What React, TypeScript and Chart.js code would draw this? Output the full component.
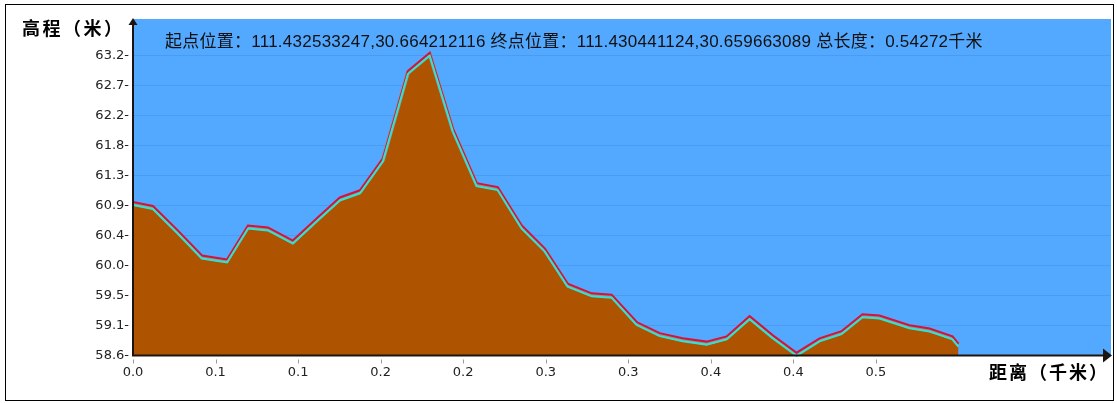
import { useEffect, useRef } from 'react';
import { Chart, registerables } from 'chart.js';

Chart.register(...registerables);

// ---- data ----
const distanceKm = [
  0.0, 0.0131, 0.0296, 0.0453, 0.0618, 0.0756, 0.0887, 0.1051, 0.1209, 0.136,
  0.1492, 0.1643, 0.1807, 0.1951, 0.2103, 0.226, 0.2398, 0.2556, 0.2707, 0.2858,
  0.3016, 0.3147, 0.3312, 0.3463, 0.3614, 0.3771, 0.3903, 0.4054, 0.4205, 0.4363,
  0.4514, 0.4658, 0.4796, 0.4908, 0.5105, 0.5237, 0.5388, 0.5427,
];
const elevationM = [
  60.93, 60.87, 60.49, 60.11, 60.05, 60.57, 60.54, 60.34, 60.68, 61.0,
  61.11, 61.6, 62.94, 63.22, 62.06, 61.22, 61.16, 60.57, 60.22, 59.68,
  59.53, 59.51, 59.09, 58.92, 58.84, 58.79, 58.87, 59.18, 58.89, 58.62,
  58.84, 58.95, 59.21, 59.19, 59.04, 58.99, 58.87, 58.76,
];
const yTickLabels = ['58.6', '59.1', '59.5', '60.0', '60.4', '60.9', '61.3', '61.8', '62.2', '62.7', '63.2'];
const xTickLabels = ['0.0', '0.1', '0.1', '0.2', '0.2', '0.3', '0.3', '0.4', '0.4', '0.5'];
const totalLengthKm = 0.54272;
const yMin = 58.6;
const yStep = 0.46;
const yMax = 63.76;
const xMax = 0.643;

const headerText =
  '起点位置：111.432533247,30.664212116 终点位置：111.430441124,30.659663089 总长度：0.54272千米';
const yTitle = '高程（米）';
const xTitle = '距离（千米）';

const BLUE = '#53A9FF';
const BROWN = '#AE5300';
const TEXT_FONT = '"Liberation Sans", "Noto Sans CJK SC", Arial, sans-serif';

export default function App() {
  const ref = useRef<HTMLCanvasElement>(null);

  useEffect(() => {
    const canvas = ref.current;
    if (!canvas) return;
    const pts = distanceKm.map((x, i) => ({ x, y: elevationM[i] }));
    const xStep = totalLengthKm / 10;

    const bgPlugin = {
      id: 'plotBg',
      beforeDraw(chart: any) {
        const { ctx, chartArea: a } = chart;
        ctx.save();
        ctx.fillStyle = BLUE;
        ctx.fillRect(a.left, a.top, a.right - a.left, a.bottom - a.top);
        ctx.restore();
      },
    };

    const offsetPlugin = {
      id: 'lineOffset',
      beforeDatasetDraw(chart: any, args: any) {
        const o = (chart.data.datasets[args.index] as any).yOffset || 0;
        chart.ctx.save();
        chart.ctx.translate(0, o);
      },
      afterDatasetDraw(chart: any) {
        chart.ctx.restore();
      },
    };

    const axesPlugin = {
      id: 'arrowAxes',
      afterDraw(chart: any) {
        const { ctx, chartArea: a } = chart;
        const xs = chart.scales.x;
        ctx.save();
        // x tick marks (detached from the axis)
        ctx.strokeStyle = '#9a9a9a';
        ctx.lineWidth = 1;
        xs.ticks.forEach((t: any) => {
          const px = Math.round(xs.getPixelForValue(t.value)) + 0.5;
          ctx.beginPath();
          ctx.moveTo(px, a.bottom + 4);
          ctx.lineTo(px, a.bottom + 8);
          ctx.stroke();
        });
        // axes lines
        ctx.strokeStyle = '#1c1410';
        ctx.fillStyle = '#1c1410';
        ctx.lineWidth = 2;
        ctx.beginPath();
        ctx.moveTo(a.left, a.bottom);
        ctx.lineTo(a.left, a.top + 4);
        ctx.stroke();
        ctx.beginPath();
        ctx.moveTo(a.left - 1, a.bottom);
        ctx.lineTo(a.right - 8, a.bottom);
        ctx.stroke();
        // y arrow
        ctx.beginPath();
        ctx.moveTo(a.left, a.top - 1);
        ctx.lineTo(a.left - 4.5, a.top + 6);
        ctx.lineTo(a.left + 4.5, a.top + 6);
        ctx.closePath();
        ctx.fill();
        // x arrow
        ctx.beginPath();
        ctx.moveTo(a.right + 1, a.bottom);
        ctx.lineTo(a.right - 8, a.bottom - 7);
        ctx.lineTo(a.right - 8, a.bottom + 7);
        ctx.closePath();
        ctx.fill();
        ctx.restore();
      },
    };

    const chart = new Chart(canvas, {
      type: 'line',
      data: {
        datasets: [
          {
            data: pts,
            borderColor: '#2FE3D2',
            borderWidth: 2,
            pointRadius: 0,
            fill: false,
            tension: 0,
            clip: false,
            order: 0,
            yOffset: 1.5,
          } as any,
          {
            data: pts,
            borderColor: '#D4123C',
            borderWidth: 2,
            pointRadius: 0,
            fill: false,
            tension: 0,
            clip: false,
            order: 1,
            yOffset: -1.5,
          } as any,
          {
            data: pts,
            borderColor: '#9b8d8a',
            borderWidth: 4,
            pointRadius: 0,
            fill: false,
            tension: 0,
            clip: false,
            order: 2,
          } as any,
          {
            data: pts,
            borderWidth: 0,
            borderColor: 'rgba(0,0,0,0)',
            backgroundColor: BROWN,
            pointRadius: 0,
            fill: 'start',
            tension: 0,
            order: 3,
          } as any,
        ],
      },
      options: {
        animation: false,
        responsive: false,
        maintainAspectRatio: false,
        events: [],
        layout: { padding: { top: 19, right: 6, left: 0, bottom: 0 } },
        plugins: {
          legend: { display: false },
          title: { display: false },
          tooltip: { enabled: false },
        },
        scales: {
          x: {
            type: 'linear',
            min: 0,
            max: xMax,
            afterFit(s: any) {
              s.height = 47.5;
            },
            afterBuildTicks(s: any) {
              s.ticks = xTickLabels.map((_, i) => ({ value: i * xStep }));
            },
            border: { display: false },
            grid: { display: false, drawTicks: false },
            ticks: {
              autoSkip: false,
              maxRotation: 0,
              padding: 9,
              color: '#222',
              font: { family: '"DejaVu Sans", sans-serif', size: 13 },
              callback: (_v: any, i: number) => xTickLabels[i],
            },
          },
          y: {
            type: 'linear',
            min: yMin,
            max: yMax,
            afterFit(s: any) {
              s.width = 133;
            },
            afterBuildTicks(s: any) {
              s.ticks = yTickLabels.map((_, i) => ({ value: yMin + i * yStep }));
            },
            border: { display: false },
            grid: { color: 'rgba(30,90,170,0.16)', lineWidth: 1, drawTicks: false },
            ticks: {
              autoSkip: false,
              padding: 4,
              color: '#222',
              font: { family: '"DejaVu Sans", sans-serif', size: 13 },
              callback: (_v: any, i: number) => yTickLabels[i] + '-',
            },
          },
        },
      },
      plugins: [bgPlugin, offsetPlugin, axesPlugin],
    });

    return () => chart.destroy();
  }, []);

  return (
    <div
      style={{
        position: 'absolute',
        left: 0,
        top: 0,
        width: 1117,
        height: 403,
        overflow: 'hidden',
        background: '#ffffff',
      }}
    >
      <div
        style={{
          position: 'absolute',
          left: 5,
          top: 4,
          width: 1109,
          height: 397,
          border: '1px solid #000',
          boxSizing: 'border-box',
        }}
      />
      <canvas
        ref={ref}
        width={1117}
        height={403}
        style={{ position: 'absolute', left: 0, top: 0, width: 1117, height: 403 }}
      />
      <div
        style={{
          position: 'absolute',
          left: 165,
          top: 32,
          font: `17px ${TEXT_FONT}`,
          lineHeight: '20px',
          letterSpacing: '0.25px',
          color: '#111',
          whiteSpace: 'nowrap',
        }}
      >
        {headerText}
      </div>
      <div
        style={{
          position: 'absolute',
          left: 22,
          top: 18,
          font: `bold 18px ${TEXT_FONT}`,
          lineHeight: '22px',
          letterSpacing: '2.5px',
          color: '#000',
          whiteSpace: 'nowrap',
        }}
      >
        {yTitle}
      </div>
      <div
        style={{
          position: 'absolute',
          left: 989,
          top: 362,
          font: `bold 18px ${TEXT_FONT}`,
          lineHeight: '22px',
          letterSpacing: '2px',
          color: '#000',
          whiteSpace: 'nowrap',
        }}
      >
        {xTitle}
      </div>
    </div>
  );
}
